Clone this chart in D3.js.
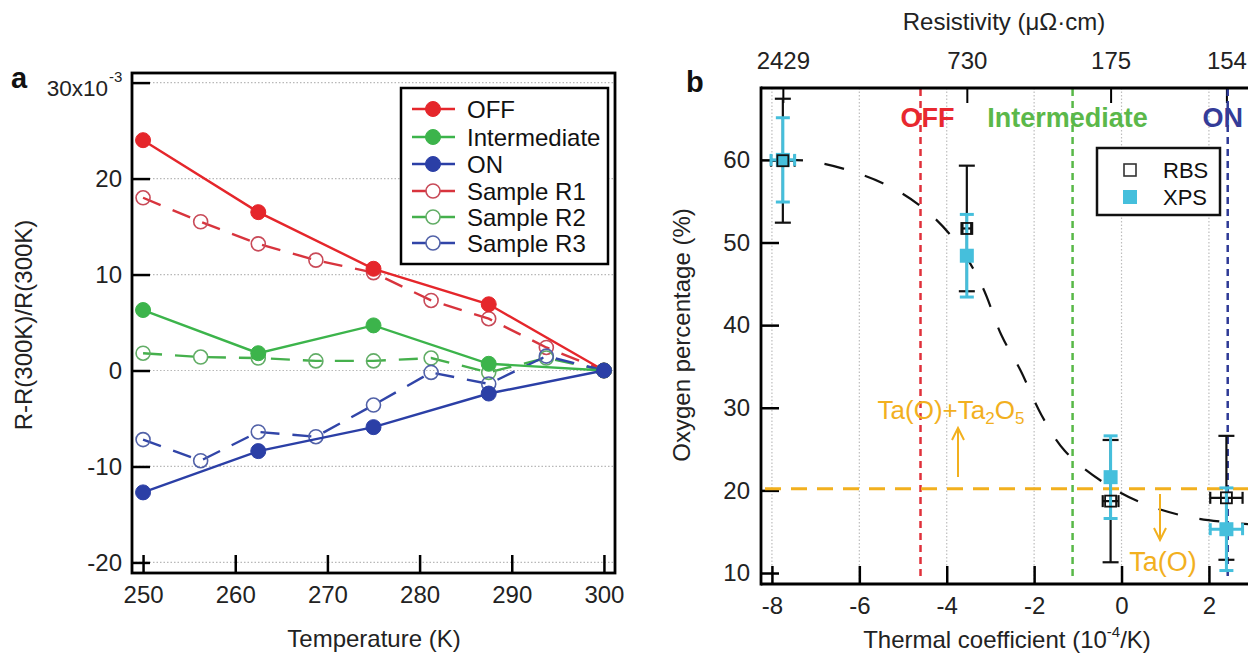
<!DOCTYPE html>
<html><head><meta charset="utf-8">
<script src="https://cdn.jsdelivr.net/npm/d3@7"></script>
<style>
body{margin:0;background:#fff;}
text{font-family:"Liberation Sans",Arial,Helvetica,sans-serif;}
</style></head>
<body><svg id="c" width="1248" height="654"></svg>
<script>
// ---------- Panel a data ----------
const tempA = [250, 262.5, 275, 287.5, 300];
const offVals = [24.0, 16.5, 10.6, 6.9, 0];
const intVals = [6.3, 1.8, 4.7, 0.7, 0];
const onVals = [-12.7, -8.4, -5.9, -2.4, 0];
const tempR = [250, 256.25, 262.5, 268.75, 275, 281.25, 287.5, 293.75, 300];
const r1Vals = [18.0, 15.5, 13.2, 11.5, 10.2, 7.3, 5.4, 2.4, 0];
const r2Vals = [1.8, 1.4, 1.3, 1.0, 1.0, 1.3, -0.2, 1.3, 0];
const r3Vals = [-7.2, -9.4, -6.4, -6.9, -3.6, -0.2, -1.4, 1.5, 0];
const aXTicks = [250, 260, 270, 280, 290, 300];
const aYTicks = [-20, -10, 0, 10, 20, 30];
const aLegend = ["OFF", "Intermediate", "ON", "Sample R1", "Sample R2", "Sample R3"];

// ---------- Panel b data ----------
const thermCoef = [-7.75, -3.54, -0.25, 2.4];
const rbsVals = [59.9, 51.7, 18.7, 19.1];
const rbsErrY = [7.5, 7.6, 7.4, 7.5];
const rbsErrX = [0.27, 0.1, 0.18, 0.37];
const xpsVals = [60.0, 48.4, 21.6, 15.3];
const xpsErrY = [5.1, 5.0, 5.0, 5.0];
const xpsErrX = [0.27, 0.0, 0.06, 0.37];
const resistLabels = ["2429", "730", "175", "154"];
const fitX = [-7.75, -7.21, -6.22, -5.24, -4.39, -3.71, -3.18, -2.75, -2.31, -1.83, -1.30, -0.48, 0.41, 1.44, 2.49, 3.2];
const fitY = [60.0, 59.9, 58.7, 56.6, 53.5, 49.5, 44.6, 38.8, 34.5, 29.1, 24.8, 21.2, 18.6, 16.9, 16.1, 15.8];
const stateNames = ["OFF", "Intermediate", "ON"];
const statePos = [-4.6, -1.12, 2.43];
const phaseBoundary = 20.2;
const bXTicks = [-8, -6, -4, -2, 0, 2];
const bYTicks = [10, 20, 30, 40, 50, 60];

const svg = d3.select("#c");
const FS = 24;
const plain = d => String(d);

// ================= Panel a =================
const ax = d3.scaleLinear().domain([248.8, 301.2]).range([132, 615]);
const ay = d3.scaleLinear().domain([-21.1, 31.0]).range([573, 73]);
const ga = svg.append("g");

ga.selectAll(".gy").data(aYTicks).enter().append("line")
  .attr("x1", 132).attr("x2", 615).attr("y1", d => ay(d)).attr("y2", d => ay(d))
  .attr("stroke", "#b8b8b8").attr("stroke-width", 1.2).attr("stroke-dasharray", "1.5,2");

const axB = ga.append("g").attr("transform", "translate(0,573)")
  .call(d3.axisBottom(ax).tickValues(aXTicks).tickSize(-18).tickPadding(30).tickFormat(plain));
const axL = ga.append("g").attr("transform", "translate(132,0)")
  .call(d3.axisLeft(ay).tickValues(aYTicks).tickSize(-18).tickPadding(10).tickFormat(d => d === 30 ? "" : String(d)));
[axB, axL].forEach(g => {
  g.select(".domain").remove();
  g.selectAll(".tick line").attr("stroke", "#000").attr("stroke-width", 2.5);
  g.selectAll(".tick text").attr("font-size", FS).attr("fill", "#222").style("font-family", '"Liberation Sans",Arial,sans-serif');
});
axB.selectAll(".tick text").attr("dy", "0");
ga.append("text").attr("x", 108).attr("y", ay(30) + 13).attr("text-anchor", "end")
  .attr("font-size", 22.5).attr("fill", "#222").text("30x10");
ga.append("text").attr("x", 109).attr("y", ay(30) - 1).attr("font-size", 15).attr("fill", "#222").text("-3");

ga.append("rect").attr("x", 132).attr("y", 73).attr("width", 483).attr("height", 500)
  .attr("fill", "none").attr("stroke", "#000").attr("stroke-width", 2.8);

const seriesA = [
  {x: tempA, y: offVals, c: "#e5262b", mc: "#e5262b", filled: true},
  {x: tempA, y: intVals, c: "#3cb44b", mc: "#3cb44b", filled: true},
  {x: tempA, y: onVals, c: "#2b3fa6", mc: "#2b3fa6", filled: true},
  {x: tempR, y: r1Vals, c: "#d8343d", mc: "#c84a58", filled: false},
  {x: tempR, y: r2Vals, c: "#45b04c", mc: "#62ad66", filled: false},
  {x: tempR, y: r3Vals, c: "#3145a8", mc: "#5262a8", filled: false}
];
const lineA = d3.line().x(d => ax(d[0])).y(d => ay(d[1]));
const order = [3, 4, 5, 0, 1, 2];
order.forEach(i => {
  const s = seriesA[i];
  const pts = s.x.map((v, k) => [v, s.y[k]]);
  ga.append("path").datum(pts).attr("d", lineA).attr("fill", "none")
    .attr("stroke", s.c).attr("stroke-width", 2.4)
    .attr("stroke-dasharray", s.filled ? null : "19,13");
  ga.selectAll(null).data(pts).enter().append("circle")
    .attr("cx", d => ax(d[0])).attr("cy", d => ay(d[1]))
    .attr("r", s.filled ? 7.5 : 7)
    .attr("fill", s.filled ? s.mc : "none")
    .attr("stroke", s.mc).attr("stroke-width", s.filled ? 1 : 1.6);
});

ga.append("rect").attr("x", 401).attr("y", 88).attr("width", 207).attr("height", 176)
  .attr("fill", "#fff").attr("stroke", "#000").attr("stroke-width", 2.5);
const legY = [109, 137, 164, 191, 217, 243];
aLegend.forEach((name, i) => {
  const s = seriesA[i];
  const y = legY[i];
  ga.append("line").attr("x1", 412).attr("x2", 455).attr("y1", y).attr("y2", y)
    .attr("stroke", s.c).attr("stroke-width", 2.4);
  ga.append("circle").attr("cx", 433).attr("cy", y).attr("r", s.filled ? 7.5 : 7)
    .attr("fill", s.filled ? s.mc : "#fff").attr("stroke", s.mc).attr("stroke-width", s.filled ? 1 : 1.6);
  ga.append("text").attr("x", 467).attr("y", y + 8.5).attr("font-size", 24).attr("fill", "#111").text(name);
});

ga.append("text").attr("x", 374).attr("y", 647).attr("text-anchor", "middle").attr("font-size", FS).attr("fill", "#222").text("Temperature (K)");
ga.append("text").attr("transform", "translate(32,325) rotate(-90)").attr("text-anchor", "middle")
  .attr("font-size", FS).attr("fill", "#222").text("R-R(300K)/R(300K)");
ga.append("text").attr("x", 11).attr("y", 88).attr("font-size", 29).attr("font-weight", "bold").attr("fill", "#111").text("a");

// ================= Panel b =================
const bx = d3.scaleLinear().domain([-8.25, 3.5]).range([761, 761 + 11.75 * 43.7]);
const by = d3.scaleLinear().domain([8.67, 68.7]).range([584, 88]);
const gb = svg.append("g");
gb.append("clipPath").attr("id", "clipb").append("rect")
  .attr("x", 761).attr("y", 88).attr("width", 600).attr("height", 496);

gb.selectAll(".gx").data(bXTicks).enter().append("line")
  .attr("x1", d => bx(d)).attr("x2", d => bx(d)).attr("y1", 88).attr("y2", 584)
  .attr("stroke", "#bdbdbd").attr("stroke-width", 1.2).attr("stroke-dasharray", "1.5,2");

const bBot = gb.append("g").attr("transform", "translate(0,584)")
  .call(d3.axisBottom(bx).tickValues(bXTicks).tickSize(-18).tickPadding(30).tickFormat(plain));
const bLeft = gb.append("g").attr("transform", "translate(761,0)")
  .call(d3.axisLeft(by).tickValues(bYTicks).tickSize(-18).tickPadding(11).tickFormat(plain));
const bTop = gb.append("g").attr("transform", "translate(0,88)")
  .call(d3.axisTop(bx).tickValues(thermCoef).tickSize(-15).tickPadding(19).tickFormat((d, i) => resistLabels[i]));
[bBot, bLeft, bTop].forEach(g => {
  g.select(".domain").remove();
  g.selectAll(".tick line").attr("stroke", "#000").attr("stroke-width", 2.5);
  g.selectAll(".tick text").attr("font-size", FS).attr("fill", "#222").style("font-family", '"Liberation Sans",Arial,sans-serif');
});
bBot.selectAll(".tick text").attr("dy", "0");
bTop.selectAll(".tick text").attr("dy", "0");
bTop.selectAll(".tick line").attr("stroke-width", 2);

const stateCols = ["#e0303a", "#58b848", "#2e3a96"];
statePos.forEach((p, i) => {
  gb.append("line").attr("x1", bx(p)).attr("x2", bx(p)).attr("y1", 89).attr("y2", 576)
    .attr("stroke", stateCols[i]).attr("stroke-width", 2.5).attr("stroke-dasharray", "7,5");
});
gb.append("line").attr("x1", 765).attr("x2", 1248).attr("y1", by(phaseBoundary)).attr("y2", by(phaseBoundary))
  .attr("stroke", "#f2b01e").attr("stroke-width", 3).attr("stroke-dasharray", "16,10");

const stateTextCols = ["#e8282f", "#5bb84a", "#343c98"];
stateNames.forEach((n, i) => {
  gb.append("text").attr("x", bx(statePos[i]) + (i === 0 ? 7 : -5)).attr("y", 127).attr("text-anchor", "middle")
    .attr("font-size", 27).attr("font-weight", "bold").attr("fill", stateTextCols[i]).text(n);
});

const fitPts = fitX.map((v, i) => [v, fitY[i]]);
gb.append("path").datum(fitPts).attr("clip-path", "url(#clipb)")
  .attr("d", d3.line().x(d => bx(d[0])).y(d => by(d[1])).curve(d3.curveCatmullRom))
  .attr("fill", "none").attr("stroke", "#111").attr("stroke-width", 2.2).attr("stroke-dasharray", "20,22");

function errBars(vals, ey, ex, col, sw, cap) {
  thermCoef.forEach((t, i) => {
    const cx = bx(t), y0 = by(vals[i] - ey[i]), y1 = by(vals[i] + ey[i]);
    gb.append("line").attr("x1", cx).attr("x2", cx).attr("y1", Math.min(y0, 584)).attr("y2", Math.max(y1, 88))
      .attr("stroke", col).attr("stroke-width", sw);
    [y0, y1].forEach(yy => {
      if (yy < 584 && yy > 88)
        gb.append("line").attr("x1", cx - cap).attr("x2", cx + cap).attr("y1", yy).attr("y2", yy)
          .attr("stroke", col).attr("stroke-width", sw);
    });
    if (ex[i] > 0) {
      const x0 = bx(t - ex[i]), x1 = bx(t + ex[i]), cy = by(vals[i]);
      gb.append("line").attr("x1", x0).attr("x2", x1).attr("y1", cy).attr("y2", cy).attr("stroke", col).attr("stroke-width", sw);
      [x0, x1].forEach(xx => gb.append("line").attr("x1", xx).attr("x2", xx).attr("y1", cy - 6).attr("y2", cy + 6)
        .attr("stroke", col).attr("stroke-width", sw));
    }
  });
}
errBars(rbsVals, rbsErrY, rbsErrX, "#111", 2.2, 8);
errBars(xpsVals, xpsErrY, xpsErrX, "#45bfdc", 3, 7);
gb.selectAll(".xps").data(thermCoef).enter().append("rect")
  .attr("x", d => bx(d) - 7).attr("y", (d, i) => by(xpsVals[i]) - 7).attr("width", 14).attr("height", 14)
  .attr("fill", "#45bfdc");
gb.selectAll(".rbs").data(thermCoef).enter().append("rect")
  .attr("x", d => bx(d) - 5.5).attr("y", (d, i) => by(rbsVals[i]) - 5.5).attr("width", 11).attr("height", 11)
  .attr("fill", "none").attr("stroke", "#111").attr("stroke-width", 1.8);

const orange = "#f2b01e";
const ta = gb.append("text").attr("x", 951).attr("y", 419).attr("text-anchor", "middle").attr("font-size", 26).attr("fill", orange);
ta.append("tspan").text("Ta(O)+Ta");
ta.append("tspan").attr("font-size", 17).attr("dy", 5).text("2");
ta.append("tspan").attr("dy", -5).text("O");
ta.append("tspan").attr("font-size", 17).attr("dy", 5).text("5");
function arrow(x, yFrom, yTo) {
  gb.append("line").attr("x1", x).attr("x2", x).attr("y1", yFrom).attr("y2", yTo).attr("stroke", orange).attr("stroke-width", 2);
  const d = yTo < yFrom ? 1 : -1;
  gb.append("path").attr("d", `M${x - 6},${yTo + d * 12} L${x},${yTo} L${x + 6},${yTo + d * 12}`)
    .attr("fill", "none").attr("stroke", orange).attr("stroke-width", 2);
}
arrow(958, 477, 428);
arrow(1160, 494, 540);
gb.append("text").attr("x", 1163).attr("y", 571).attr("text-anchor", "middle").attr("font-size", 27).attr("fill", orange).text("Ta(O)");

gb.append("rect").attr("x", 1097).attr("y", 148).attr("width", 123).attr("height", 67)
  .attr("fill", "#fff").attr("stroke", "#111").attr("stroke-width", 2.5);
gb.append("rect").attr("x", 1124).attr("y", 164).attr("width", 12).attr("height", 12).attr("fill", "#fff").attr("stroke", "#333").attr("stroke-width", 1.6);
gb.append("rect").attr("x", 1123).attr("y", 190).attr("width", 14).attr("height", 14).attr("fill", "#45bfdc");
gb.append("text").attr("x", 1163).attr("y", 178).attr("font-size", 22).attr("fill", "#111").text("RBS");
gb.append("text").attr("x", 1163).attr("y", 205).attr("font-size", 22).attr("fill", "#111").text("XPS");

gb.append("line").attr("x1", 761).attr("x2", 1248).attr("y1", 88).attr("y2", 88).attr("stroke", "#000").attr("stroke-width", 2.8);
gb.append("line").attr("x1", 761).attr("x2", 1248).attr("y1", 584).attr("y2", 584).attr("stroke", "#000").attr("stroke-width", 2.8);
gb.append("line").attr("x1", 761).attr("x2", 761).attr("y1", 86.6).attr("y2", 585.4).attr("stroke", "#000").attr("stroke-width", 2.8);

const xt = gb.append("text").attr("x", 1007).attr("y", 648).attr("text-anchor", "middle").attr("font-size", FS).attr("fill", "#222");
xt.append("tspan").text("Thermal coefficient (10");
xt.append("tspan").attr("font-size", 15).attr("dy", -11).text("-4");
xt.append("tspan").attr("dy", 11).text("/K)");
gb.append("text").attr("transform", "translate(690,335) rotate(-90)").attr("text-anchor", "middle")
  .attr("font-size", FS).attr("fill", "#222").text("Oxygen percentage (%)");
gb.append("text").attr("x", 1004).attr("y", 30).attr("text-anchor", "middle").attr("font-size", FS).attr("fill", "#222").text("Resistivity (μΩ·cm)");
gb.append("text").attr("x", 686).attr("y", 92).attr("font-size", 29).attr("font-weight", "bold").attr("fill", "#111").text("b");
</script></body></html>
